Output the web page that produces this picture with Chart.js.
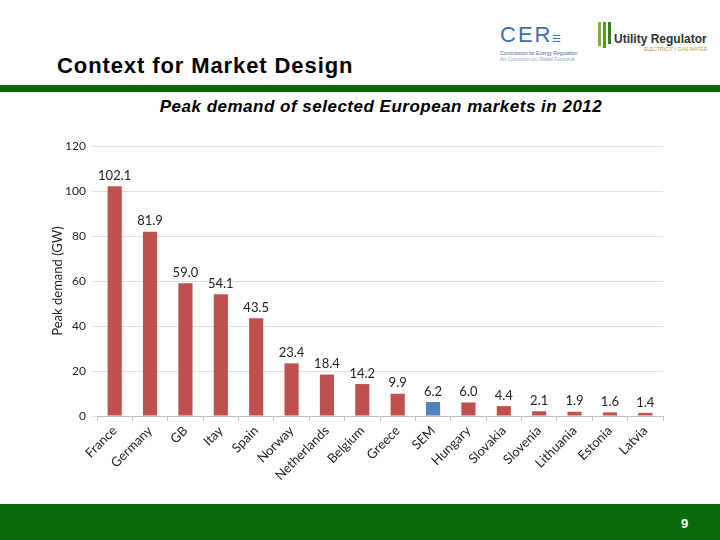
<!DOCTYPE html>
<html><head><meta charset="utf-8">
<script src="https://cdn.jsdelivr.net/npm/chart.js@4/dist/chart.umd.min.js"></script>
<style>
html,body{margin:0;padding:0;background:#fff;}
body{width:720px;height:540px;position:relative;overflow:hidden;font-family:"Liberation Sans",Arial,sans-serif;}
#title{position:absolute;left:57px;top:53px;font-size:22px;letter-spacing:0.9px;font-weight:bold;color:#000;}
#band{position:absolute;left:0;top:85px;width:720px;height:7px;background:#0a6a0a;}
#sub{position:absolute;left:0;width:762px;top:97px;text-align:center;font-size:17px;letter-spacing:0.5px;font-weight:bold;font-style:italic;color:#000;}
#foot{position:absolute;left:0;top:504px;width:720px;height:36px;background:#0a6a0a;}
#pg{position:absolute;left:681px;top:516px;font-size:13px;font-weight:bold;color:#fff;}
#cer{position:absolute;left:500px;top:24px;font-family:"Liberation Sans",Arial,sans-serif;color:#3d6fa8;}
#cer .big{font-size:22px;letter-spacing:2px;line-height:22px;}
#cer .small{font-size:5px;color:#3d6fa8;line-height:6px;}
#ur{position:absolute;left:596px;top:22px;}
#ur .t{position:absolute;left:18px;top:10px;font-size:12px;font-weight:bold;color:#333;white-space:nowrap;font-family:"Liberation Sans",Arial,sans-serif;}
#ur .s{position:absolute;left:48px;top:24px;font-size:5px;color:#b8a030;white-space:nowrap;}
#ur .bar{position:absolute;top:0;width:3px;background:#7ab43a;}
canvas{position:absolute;left:0;top:0;}
</style></head><body>
<div id="cer"><div class="big">CER<span style="font-size:10px;letter-spacing:0">&#9776;</span></div><div class="small">Commission for Energy Regulation</div><div class="small" style="color:#8aa">An Coimisiún um Rialáil Fuinnimh</div></div>
<div id="ur"><div class="bar" style="left:2px;height:24px;"></div><div class="bar" style="left:7px;height:26px;background:#5a9a2a"></div><div class="bar" style="left:12px;height:22px;background:#3a7a1a"></div><div class="t">Utility Regulator</div><div class="s">ELECTRICITY GAS WATER</div></div>
<div id="title">Context for Market Design</div>
<div id="band"></div>
<div id="sub">Peak demand of selected European markets in 2012</div>
<div id="foot"></div>
<div id="pg">9</div>
<canvas id="c" width="720" height="540"></canvas>
<script>
const categories = ["France","Germany","GB","Itay","Spain","Norway","Netherlands","Belgium","Greece","SEM","Hungary","Slovakia","Slovenia","Lithuania","Estonia","Latvia"];
const peakDemand = [102.1,81.9,59.0,54.1,43.5,23.4,18.4,14.2,9.9,6.2,6.0,4.4,2.1,1.9,1.6,1.4];
const highlight = "SEM";
const yTicks = [0,20,40,60,80,100,120];

const barColors = categories.map(c => c === highlight ? "#4F81BD" : "#C0504D");
const FONT = "Lato, 'Open Sans', sans-serif";

const labelPlugin = {
  id: "vals",
  afterDatasetsDraw(chart) {
    const ctx = chart.ctx;
    const meta = chart.getDatasetMeta(0);
    ctx.save();
    ctx.font = "13px " + FONT;
    ctx.fillStyle = "#222";
    ctx.textAlign = "center";
    ctx.textBaseline = "bottom";
    meta.data.forEach((el, i) => {
      ctx.fillText(peakDemand[i].toFixed(1), el.x, el.y - 4);
    });
    ctx.restore();
  }
};

new Chart(document.getElementById("c"), {
  type: "bar",
  data: { labels: categories, datasets: [{ data: peakDemand, backgroundColor: barColors, categoryPercentage: 0.8, barPercentage: 0.5 }] },
  options: {
    responsive: false,
    animation: false,
    layout: { padding: { left: 50, right: 57, top: 146, bottom: 30 } },
    plugins: { legend: { display: false }, tooltip: { enabled: false } },
    scales: {
      x: {
        grid: { display: true, drawOnChartArea: false, drawTicks: true, tickLength: 5, color: "#bfbfbf", offset: true },
        border: { color: "#bfbfbf" },
        ticks: { color: "#222", font: { family: FONT, size: 13 }, maxRotation: 45, minRotation: 45, autoSkip: false, padding: 2 },
        afterFit(s) { s.height = 94; }
      },
      y: {
        min: 0, max: 120,
        afterBuildTicks(s) { s.ticks = yTicks.map(v => ({ value: v })); },
        grid: { color: "#e0e0e0", tickLength: 5, drawTicks: true },
        border: { display: false },
        ticks: { color: "#222", font: { family: FONT, size: 12 }, padding: 6 },
        title: { display: true, text: "Peak demand (GW)", color: "#222", font: { family: FONT, size: 13 }, padding: 0 },
        afterFit(s) { s.width = 47; }
      }
    }
  },
  plugins: [labelPlugin]
});
</script>
</body></html>
